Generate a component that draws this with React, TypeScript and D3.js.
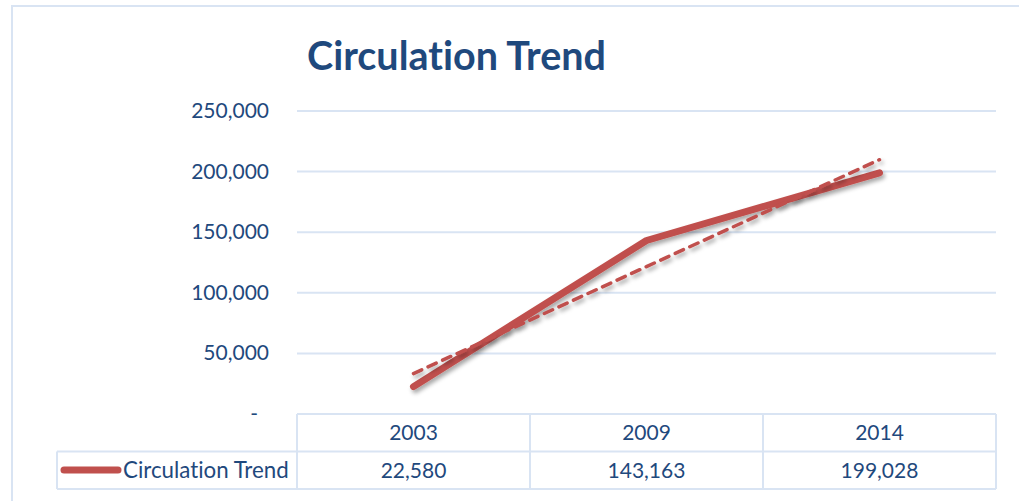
import * as d3 from 'd3';
import React from 'react';

const years = ['2003', '2009', '2014'];
const circulation = [22580, 143163, 199028];
const seriesName = 'Circulation Trend';
const yTicks = [0, 50000, 100000, 150000, 200000, 250000];

const width = 1019;
const height = 501;
const plot = { left: 297, right: 996, top: 111, bottom: 414 };
const rowH = 37.5;
const legendLeft = 57;

const textColor = '#1f497d';
const lineColor = '#c0504d';
const gridColor = '#d9e4f3';
const font = 'Lato, "Open Sans", sans-serif';
const noLig = { fontVariantLigatures: 'none' } as React.CSSProperties;

// Excel style linear trendline, x = 1..n
const linearFit = (vals: number[]) => {
  const xs = vals.map((_, i) => i + 1);
  const mx = d3.mean(xs) as number;
  const my = d3.mean(vals) as number;
  const slope =
    (d3.sum(xs, (x, i) => (x - mx) * (vals[i] - my)) as number) /
    (d3.sum(xs, (x) => (x - mx) ** 2) as number);
  return xs.map((x) => my + slope * (x - mx));
};

const App: React.FC = () => {
  const x = d3.scaleBand().domain(years).range([plot.left, plot.right]);
  const y = d3.scaleLinear().domain([0, 250000]).range([plot.bottom, plot.top]);
  const cx = (d: string) => (x(d) as number) + x.bandwidth() / 2;

  const line = d3
    .line<number>()
    .x((_, i) => cx(years[i]))
    .y((d) => y(d));

  const trend = linearFit(circulation);
  const fmt = d3.format(',');

  const row1 = plot.bottom + rowH;
  const row2 = row1 + rowH;

  return (
    <svg
      width={width}
      height={height}
      style={{ position: 'absolute', left: 0, top: 0, background: 'white' }}
    >
      <defs>
        <filter id='shadow' x='-10%' y='-10%' width='120%' height='130%'>
          <feDropShadow dx='2' dy='3' stdDeviation='2' floodColor='#000' floodOpacity='0.35' />
        </filter>
      </defs>

      {/* chart frame */}
      <rect x={12} y={6} width={width + 20} height={height + 20} fill='none' stroke={gridColor} strokeWidth={2} />

      <text x={307} y={70} fill={textColor} fontFamily={font} fontWeight='bold' fontSize={39.5} style={noLig}>
        {seriesName}
      </text>

      {/* gridlines + y labels */}
      <g>
        {yTicks.map((t) => (
          <g key={t}>
            {t > 0 && (
              <line x1={plot.left} x2={plot.right} y1={y(t)} y2={y(t)} stroke={gridColor} strokeWidth={2} />
            )}
            <text
              x={t === 0 ? 258 : 269}
              y={y(t) + 7}
              textAnchor='end'
              fill={textColor}
              fontFamily={font}
              fontSize={21}
            >
              {t === 0 ? '-' : fmt(t)}
            </text>
          </g>
        ))}
      </g>

      {/* data table */}
      <g stroke={gridColor} strokeWidth={2} fill='none'>
        <line x1={plot.left} x2={plot.right} y1={plot.bottom} y2={plot.bottom} />
        <line x1={legendLeft} x2={plot.right} y1={row1} y2={row1} />
        <line x1={legendLeft} x2={plot.right} y1={row2} y2={row2} />
        <line x1={legendLeft} x2={legendLeft} y1={row1} y2={row2} />
        {[...years.map((d) => x(d) as number), plot.right].map((xx, i) => (
          <line key={i} x1={xx} x2={xx} y1={plot.bottom} y2={row2} />
        ))}
      </g>
      <g fill={textColor} fontFamily={font} fontSize={21} textAnchor='middle'>
        {years.map((d, i) => (
          <g key={d}>
            <text x={cx(d)} y={plot.bottom + 26}>{d}</text>
            <text x={cx(d)} y={row1 + 26}>{fmt(circulation[i])}</text>
          </g>
        ))}
      </g>
      <line x1={64} x2={118} y1={row1 + 18.5} y2={row1 + 18.5} stroke={lineColor} strokeWidth={7} strokeLinecap='round' />
      <text x={123} y={row1 + 26} fill={textColor} fontFamily={font} fontSize={22.3} style={noLig}>
        {seriesName}
      </text>

      {/* series */}
      <path
        d={line(circulation) as string}
        fill='none'
        stroke={lineColor}
        strokeWidth={7}
        strokeLinecap='round'
        strokeLinejoin='round'
        filter='url(#shadow)'
      />
      <path
        d={line(trend) as string}
        fill='none'
        stroke={lineColor}
        strokeWidth={3.5}
        strokeDasharray='9 7'
        strokeLinecap='round'
        filter='url(#shadow)'
      />
    </svg>
  );
};

export default App;
